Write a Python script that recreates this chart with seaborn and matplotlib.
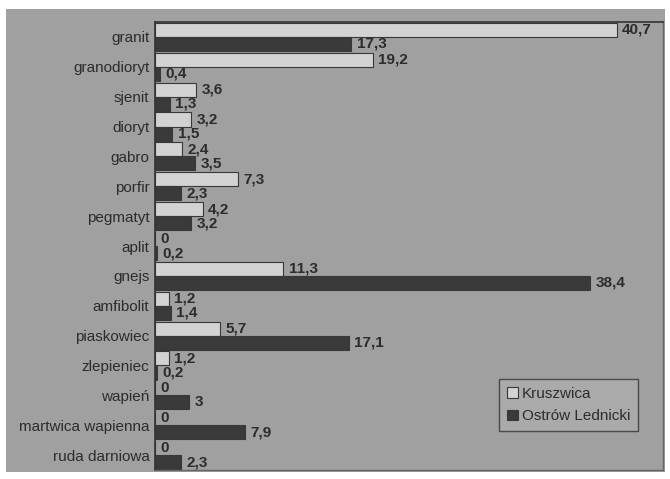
import matplotlib
matplotlib.use("Agg")
import matplotlib.pyplot as plt
import seaborn as sns
import pandas as pd
import numpy as np

# Udział surowców skalnych (%) w dwóch stanowiskach
skaly = ["granit", "granodioryt", "sjenit", "dioryt", "gabro", "porfir",
         "pegmatyt", "aplit", "gnejs", "amfibolit", "piaskowiec",
         "zlepieniec", "wapień", "martwica wapienna", "ruda darniowa"]
kruszwica = [40.7, 19.2, 3.6, 3.2, 2.4, 7.3, 4.2, 0, 11.3, 1.2, 5.7, 1.2, 0, 0, 0]
ostrow = [17.3, 0.4, 1.3, 1.5, 3.5, 2.3, 3.2, 0.2, 38.4, 1.4, 17.1, 0.2, 3, 7.9, 2.3]
stanowiska = ["Kruszwica", "Ostrów Lednicki"]

df = pd.DataFrame({
    "skała": skaly * 2,
    "udział": kruszwica + ostrow,
    "stanowisko": [stanowiska[0]] * len(skaly) + [stanowiska[1]] * len(skaly),
})

bg = "#a0a0a0"
light = "#d2d2d2"
dark = "#3a3a3a"
ink = "#2c2c2c"

sns.set_style("white")
plt.rcParams["font.family"] = ["Liberation Sans", "DejaVu Sans"]

fig = plt.figure(figsize=(6.7, 4.79), dpi=100, facecolor="white")
# gray card behind the chart
fig.patches.append(plt.Rectangle((6 / 670, 1 - 472 / 479), (665 - 6) / 670, (472 - 9) / 479,
                                 transform=fig.transFigure, facecolor=bg, edgecolor="none", zorder=-5))
ax = fig.add_axes([155 / 670, 1 - 470 / 479, (663 - 155) / 670, (470 - 22) / 479])
ax.set_zorder(2)
ax.set_facecolor(bg)

sns.barplot(data=df, y="skała", x="udział", hue="stanowisko", orient="h",
            palette=[light, dark], edgecolor="#383838", linewidth=0.8,
            width=0.94, gap=0, ax=ax, legend=True)

for cont, vals in zip(ax.containers, [kruszwica, ostrow]):
    labs = [f"{v:g}".replace(".", ",") for v in vals]
    ax.bar_label(cont, labels=labs, padding=4, fontsize=11, fontweight="bold", color=ink)

ax.set_xlim(0, 44.8)
ax.set_ylim(len(skaly) - 0.5, -0.5)
ax.set_xlabel("")
ax.set_ylabel("")
ax.set_xticks([])
ax.tick_params(axis="y", length=0, labelsize=11, labelcolor=ink, pad=4)
ax.set_yticks(np.arange(-0.5, len(skaly), 1), minor=True)
ax.tick_params(axis="y", which="minor", length=3, width=0.8, color="#444")

for side in ["top", "left"]:
    ax.spines[side].set_color("#333")
    ax.spines[side].set_linewidth(1.2)
for side in ["right", "bottom"]:
    ax.spines[side].set_color("#666")
    ax.spines[side].set_linewidth(1.0)

leg = ax.legend(loc="lower right", bbox_to_anchor=(0.951, 0.087), borderaxespad=0,
                frameon=True, fontsize=11, handlelength=0.7, handleheight=0.7,
                handletextpad=0.3, labelspacing=0.55, borderpad=0.5,
                fancybox=False, title=None)
leg.get_frame().set_facecolor("#adadad")
leg.get_frame().set_edgecolor("#333")
leg.get_frame().set_linewidth(1.0)
for t in leg.get_texts():
    t.set_color(ink)

fig.savefig("out.png", dpi=100, facecolor="white")
